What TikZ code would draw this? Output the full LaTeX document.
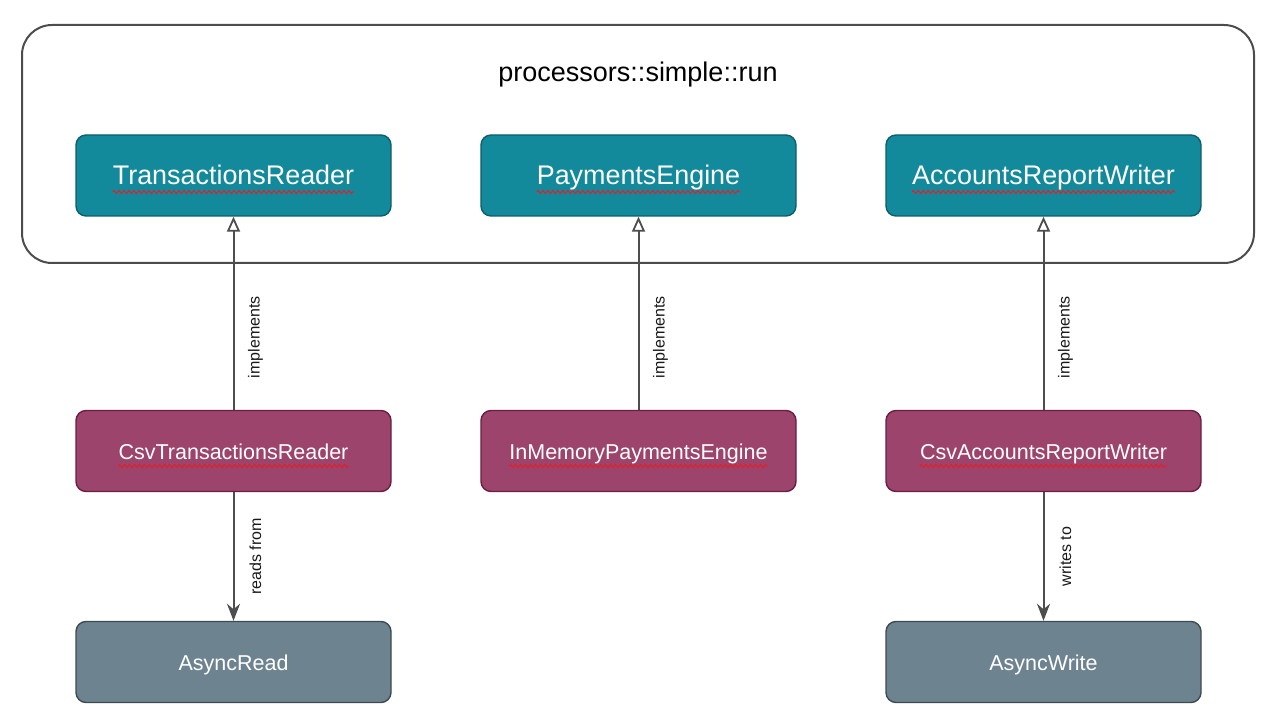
\documentclass[tikz,border=0pt]{standalone}
\usepackage{fontspec}
\setmainfont{Liberation Sans}
\usetikzlibrary{arrows.meta,decorations.pathmorphing}
\definecolor{tealfill}{HTML}{138A9B}
\definecolor{tealdraw}{HTML}{0D5E6A}
\definecolor{magfill}{HTML}{9C446B}
\definecolor{magdraw}{HTML}{6B1E43}
\definecolor{greyfill}{HTML}{6D8490}
\definecolor{greydraw}{HTML}{3D4A51}
\definecolor{edgecol}{HTML}{4D4D4D}
\definecolor{wavered}{HTML}{E0202A}
\begin{document}
\begin{tikzpicture}[x=1pt,y=-1pt,
  box/.style={rounded corners=10pt, minimum width=315pt, minimum height=81pt, line width=1.4pt, inner sep=0pt},
  tealbox/.style={box, fill=tealfill, draw=tealdraw},
  magbox/.style={box, fill=magfill, draw=magdraw},
  greybox/.style={box, fill=greyfill, draw=greydraw},
  bigtxt/.style={text=white, inner sep=0pt, anchor=base, font=\fontsize{26.9}{30}\selectfont},
  midtxt/.style={text=white, inner sep=0pt, anchor=base, font=\fontsize{21.5}{25}\selectfont},
  lbl/.style={inner sep=0pt, text=black!90, font=\fontsize{16}{18}\selectfont},
  impl/.style={draw=edgecol, line width=2pt, -{Triangle[open, length=15pt, width=13pt, line width=1.8pt]}},
  uses/.style={draw=edgecol, line width=2pt, -{Stealth[length=17pt, width=13pt, inset=5.5pt]}},
  wave/.style={draw=wavered, line width=1pt, decorate, decoration={zigzag, amplitude=1.6pt, segment length=5pt}}
]
\useasboundingbox (0,0) rectangle (1274,727);
\node[draw=black!70, line width=2pt, rounded corners=30pt, minimum width=1232pt, minimum height=238pt, inner sep=0pt] (outer) at (638,144) {};
\node[inner sep=0pt, anchor=base, font=\fontsize{27}{30}\selectfont] (title) at (638,82) {processors::simple::run};

\node[tealbox] (tr) at (233.5,175.5) {};
\node[tealbox] (pe) at (638.5,175.5) {};
\node[tealbox] (arw) at (1043.5,175.5) {};
\node[bigtxt] (trt) at ([yshift=-9.5pt]tr.center) {TransactionsReader};
\node[bigtxt] (pet) at ([yshift=-9.5pt]pe.center) {PaymentsEngine};
\node[bigtxt] (arwt) at ([yshift=-9.5pt]arw.center) {AccountsReportWriter};

\node[magbox] (ctr) at (233.5,451) {};
\node[magbox] (imp) at (638.5,451) {};
\node[magbox] (carw) at (1043.5,451) {};
\node[midtxt] (ctrt) at ([yshift=-8pt]ctr.center) {CsvTransactionsReader};
\node[midtxt] (impt) at ([yshift=-8pt]imp.center) {InMemoryPaymentsEngine};
\node[midtxt] (carwt) at ([yshift=-8pt]carw.center) {CsvAccountsReportWriter};

\node[greybox] (ar) at (233.5,662) {};
\node[greybox] (aw) at (1043.5,662) {};
\node[midtxt] (art) at ([yshift=-8pt]ar.center) {AsyncRead};
\node[midtxt] (awt) at ([yshift=-8pt]aw.center) {AsyncWrite};

\foreach \n in {trt,pet,arwt,ctrt,impt,carwt}{
  \draw[wave] ([yshift=-7pt]\n.base west) -- ([yshift=-7pt]\n.base east);
}

\draw[impl] (ctr.north) -- coordinate[pos=0.376] (m1) (tr.south);
\draw[impl] (imp.north) -- coordinate[pos=0.376] (m2) (pe.south);
\draw[impl] (carw.north) -- coordinate[pos=0.376] (m3) (arw.south);
\draw[uses] (ctr.south) -- coordinate[pos=0.5] (m4) (ar.north);
\draw[uses] (carw.south) -- coordinate[pos=0.5] (m5) (aw.north);
\node[lbl, rotate=90] (l1) at ([xshift=22pt]m1) {implements};
\node[lbl, rotate=90] (l2) at ([xshift=22pt]m2) {implements};
\node[lbl, rotate=90] (l3) at ([xshift=22pt]m3) {implements};
\node[lbl, rotate=90] (l4) at ([xshift=22pt]m4) {reads from};
\node[lbl, rotate=90] (l5) at ([xshift=22pt]m5) {writes to};
\end{tikzpicture}
\end{document}
